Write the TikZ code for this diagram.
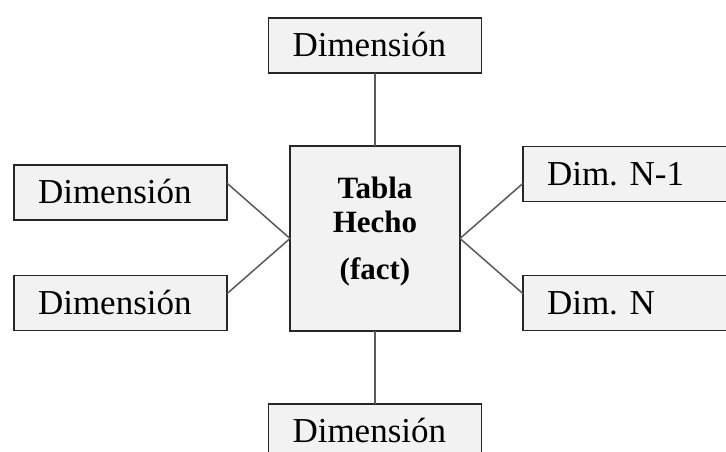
\documentclass[tikz,border=0pt]{standalone}
\usepackage{fontspec}
\setmainfont{Liberation Serif}
\usepackage{tikz}
\usepackage{xcolor}
\usetikzlibrary{positioning}
\frenchspacing
\definecolor{cBoxBg}{RGB}{242,242,242}
\definecolor{cEdge}{RGB}{38,38,38}
\definecolor{cLink}{RGB}{90,90,90}
\tikzset{
	dimbox/.style ={rectangle, draw=cEdge, line width=1.8pt, fill=cBoxBg, outer sep=0pt, inner xsep=24pt, inner ysep=0pt, text width=165pt, minimum height=55pt, align=left, text height=23pt, text depth=0pt, font=\fontsize{35}{40}\selectfont},
	factbox/.style={rectangle, draw=cEdge, line width=1.8pt, fill=cBoxBg, outer sep=0pt, minimum width=170pt, minimum height=185pt, align=center, font=\bfseries\fontsize{31}{34}\selectfont},
	link/.style   ={line width=1.5pt, cLink},
}

\begin{document}
\begin{tikzpicture}[x=1pt, y=1pt, node distance=73pt]
	\clip (0,0) rectangle (726,452);
	\fill[white] (0,0) rectangle (726,452);
	\node[factbox] (fact) at (375,213.5) {Tabla\\Hecho\\[13pt](fact)\rule[-20pt]{0pt}{0pt}};
	\node[dimbox, above=of fact] (d1) {Dimensión};
	\node[dimbox, below=of fact] (d6) {Dimensión};
	\node[dimbox, left=63pt of fact.west, yshift=46pt] (d2) {Dimensión};
	\node[dimbox, left=63pt of fact.west, yshift=-64.5pt] (d3) {Dimensión};
	\node[dimbox, right=63pt of fact.east, yshift=64.5pt] (d4) {Dim. N-1};
	\node[dimbox, right=63pt of fact.east, yshift=-64.5pt] (d5) {Dim. N};
	\draw[link] (d1) -- (fact); \draw[link] (fact) -- (d6);
	\draw[link] (d2.5) -- (fact.west); \draw[link] (d3.5) -- (fact.west);
	\draw[link] (fact.east) -- (d4.185); \draw[link] (fact.east) -- (d5.175);
\end{tikzpicture}
\end{document}
